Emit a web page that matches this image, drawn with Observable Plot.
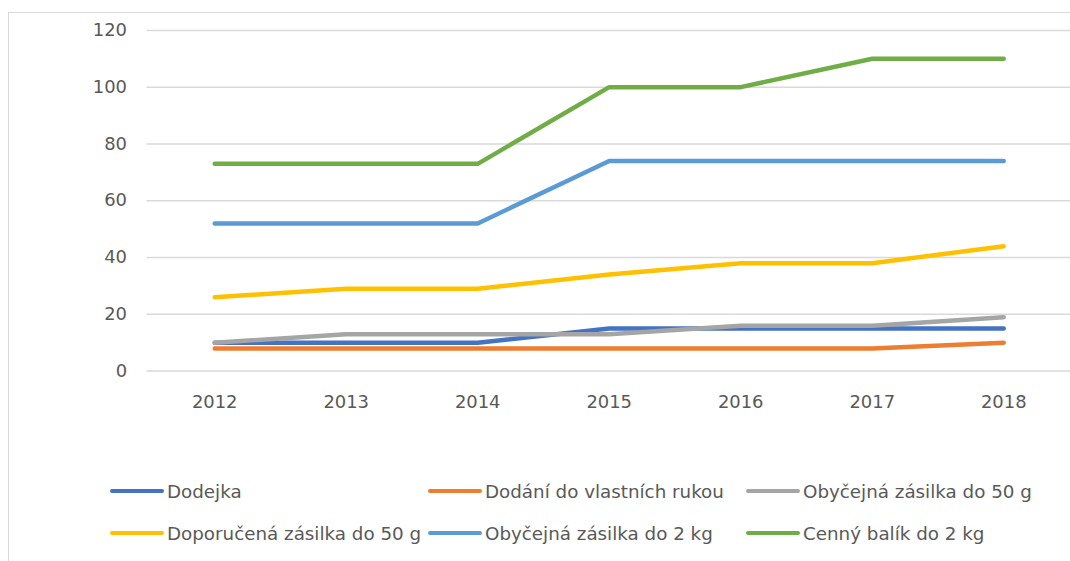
<!DOCTYPE html>
<html>
<head>
<meta charset="utf-8">
<script src="https://cdn.jsdelivr.net/npm/d3@7"></script>
<script src="https://cdn.jsdelivr.net/npm/@observablehq/plot@0.6"></script>
<style>
  html, body { margin: 0; padding: 0; background: #fff; }
  #wrap { position: relative; width: 1070px; height: 561px; overflow: hidden; background: #fff; }
  #frame { position: absolute; left: 8px; top: 12px; width: 1100px; height: 600px;
           border-left: 1.5px solid #d9d9d9; border-top: 1.5px solid #d9d9d9; }
  #chart { position: absolute; left: 0; top: 0; }
  #legend { position: absolute; left: 0; top: 0; width: 1070px; height: 561px;
            font-family: "DejaVu Sans", sans-serif; font-size: 18.3px; color: #595959; }
  .item { position: absolute; display: flex; align-items: center; white-space: nowrap; }
  .sw { width: 54px; height: 4.5px; border-radius: 3px; margin-right: 3px; }
</style>
</head>
<body>
<div id="wrap">
  <div id="frame"></div>
  <div id="chart"></div>
  <div id="legend"></div>
</div>
<script>
const years = ["2012", "2013", "2014", "2015", "2016", "2017", "2018"];
const seriesNames = [
  "Dodejka",
  "Dodání do vlastních rukou",
  "Obyčejná zásilka do 50 g",
  "Doporučená zásilka do 50 g",
  "Obyčejná zásilka do 2 kg",
  "Cenný balík do 2 kg"
];
const dodejka     = [10, 10, 10, 15, 15, 15, 15];
const dodani      = [8, 8, 8, 8, 8, 8, 10];
const obycejna50  = [10, 13, 13, 13, 16, 16, 19];
const doporucena  = [26, 29, 29, 34, 38, 38, 44];
const obycejna2kg = [52, 52, 52, 74, 74, 74, 74];
const cenny       = [73, 73, 73, 100, 100, 110, 110];
const yTicks = [0, 20, 40, 60, 80, 100, 120];
const colors = ["#4472C4", "#ED7D31", "#A5A5A5", "#FFC000", "#5B9BD5", "#70AD47"];

const seriesValues = [dodejka, dodani, obycejna50, doporucena, obycejna2kg, cenny];
const data = [];
seriesNames.forEach((name, i) => {
  years.forEach((yr, j) => data.push({ series: name, year: yr, value: seriesValues[i][j] }));
});

const chart = Plot.plot({
  width: 1074,
  height: 430,
  marginLeft: 147,
  marginRight: 0,
  marginTop: 30,
  marginBottom: 58,
  style: { fontFamily: '"DejaVu Sans", sans-serif', fontSize: "18px", color: "#595959", background: "transparent" },
  x: { type: "point", domain: years, padding: 0.5, label: null },
  y: { domain: [0, 120], ticks: yTicks, label: null },
  color: { domain: seriesNames, range: colors },
  marks: [
    Plot.gridY(yTicks, { stroke: "#d9d9d9", strokeOpacity: 1, strokeWidth: 1.5 }),
    Plot.axisY(yTicks, { tickSize: 0, tickPadding: 20, fill: "#595959", label: null }),
    Plot.axisX({ tickSize: 0, tickPadding: 24, fill: "#595959", label: null }),
    Plot.line(data, { x: "year", y: "value", z: "series", stroke: "series",
      strokeWidth: 4.5, strokeLinecap: "round", strokeLinejoin: "round" })
  ]
});
document.getElementById("chart").appendChild(chart);

// legend
const legend = document.getElementById("legend");
const colX = [110, 428, 746];
const rowY = [491, 533];
seriesNames.forEach((name, i) => {
  const item = document.createElement("div");
  item.className = "item";
  item.style.left = colX[i % 3] + "px";
  item.style.top = (rowY[Math.floor(i / 3)] - 11) + "px";
  item.style.height = "22px";
  const sw = document.createElement("div");
  sw.className = "sw";
  sw.style.background = colors[i];
  const t = document.createElement("span");
  t.textContent = name;
  item.appendChild(sw);
  item.appendChild(t);
  legend.appendChild(item);
});
</script>
</body>
</html>
